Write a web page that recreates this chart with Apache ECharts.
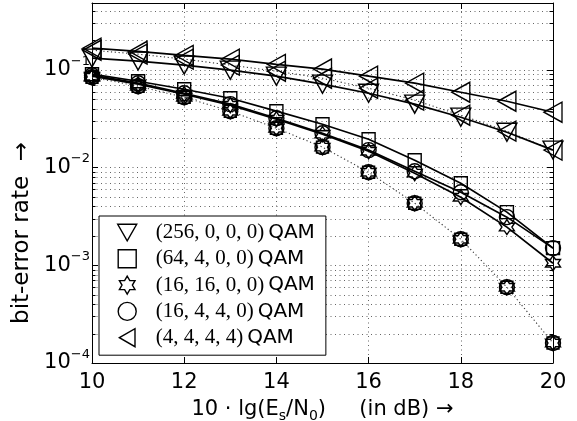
<!DOCTYPE html>
<html>
<head>
<meta charset="utf-8">
<script src="https://cdn.jsdelivr.net/npm/echarts@6/dist/echarts.min.js"></script>
<style>
html,body{margin:0;padding:0;background:#fff;}
#chart{width:577px;height:421px;}
</style>
</head>
<body>
<div id="chart"></div>
<script>
// SNR grid in dB
const snr = [10, 11, 12, 13, 14, 15, 16, 17, 18, 19, 20];

// Bit-error rates, solid curves
const ber256  = [0.132, 0.123, 0.112, 0.0993, 0.0862, 0.0714, 0.0577, 0.0446, 0.0328, 0.0230, 0.0151];
const ber4444 = [0.167, 0.155, 0.141, 0.129, 0.114, 0.102, 0.0862, 0.0731, 0.0591, 0.0478, 0.0369];
const ber64   = [0.0904, 0.0766, 0.0634, 0.0513, 0.0378, 0.0278, 0.0195, 0.0119, 0.00692, 0.00350, 0.00150];
const ber1616 = [0.0862, 0.0714, 0.0564, 0.0435, 0.0313, 0.0220, 0.0147, 0.00877, 0.00498, 0.00246, 0.00105];
const ber1644 = [0.0883, 0.0731, 0.0577, 0.0446, 0.0320, 0.0225, 0.0151, 0.00919, 0.00560, 0.00311, 0.00150];

// Bit-error rates, dotted curves
const ber4444Dot = [0.159, 0.145, 0.129, 0.112, 0.0970, 0.0822, 0.0650, 0.0490, 0.0344, 0.0236, 0.0151];
const berLowDot  = [0.0842, 0.0681, 0.0525, 0.0378, 0.0253, 0.0162, 0.00897, 0.00432, 0.00185, 0.000597, 0.000160];

// Legend entries
const legendNames = ['(256, 0, 0, 0) QAM', '(64, 4, 0, 0) QAM', '(16, 16, 0, 0) QAM', '(16, 4, 4, 0) QAM', '(4, 4, 4, 4) QAM'];

// Axis ranges and ticks
const yDecades = [-4, -3, -2, -1];
const yMin = 1e-4, yMax = 0.484;

const lg = v => Math.log10(v);
const pts = arr => snr.map((x, i) => [x, lg(arr[i])]);

// Minor log positions 2..9 × 10^n inside the axis range
const minorVals = [];
yDecades.forEach(n => {
  for (let k = 2; k <= 9; k++) {
    const v = k * Math.pow(10, n);
    if (v < yMax) minorVals.push(lg(v));
  }
});

// Marker shapes
function hexagramPath() {
  let d = '';
  for (let i = 0; i < 12; i++) {
    const r = i % 2 === 0 ? 10 : 5.77;
    const a = Math.PI / 2 + i * Math.PI / 6;
    const x = 10 + r * Math.cos(a), y = 10 - r * Math.sin(a);
    d += (i === 0 ? 'M' : 'L') + x.toFixed(2) + ',' + y.toFixed(2);
  }
  return 'path://' + d + 'Z';
}
const SYM = {
  down: 'path://M0,0L20,0L10,17.32Z',
  left: 'path://M0,10L17.32,0L17.32,20Z',
  square: 'path://M0,0L10,0L10,10L0,10Z',
  star: hexagramPath(),
  circle: 'circle'
};

const hollow = { color: 'rgba(0,0,0,0)', borderColor: '#000', borderWidth: 1.4 };
const solidLine = { color: '#000', width: 1.7, type: 'solid' };
const dotLine = { color: '#333', width: 1.1, type: [1.2, 2.6] };
const noLine = { width: 0, opacity: 0 };

function curve(name, arr, sym, size, lineStyle) {
  return {
    type: 'line', name: name, data: pts(arr),
    symbol: sym, symbolSize: size, showSymbol: true,
    lineStyle: lineStyle, itemStyle: hollow,
    silent: true, z: 3, clip: false
  };
}

const series = [
  // dotted curves
  curve(legendNames[4], ber4444Dot, SYM.left, [18, 20], dotLine),
  curve(legendNames[3], berLowDot, SYM.circle, 15, dotLine),
  curve(legendNames[2], berLowDot, SYM.star, [15, 15], noLine),
  curve(legendNames[1], berLowDot, SYM.square, [12, 12], noLine),
  // solid curves
  curve(legendNames[0], ber256, SYM.down, [20, 18], solidLine),
  curve(legendNames[4], ber4444, SYM.left, [18, 20], solidLine),
  curve(legendNames[1], ber64, SYM.square, [13, 13], solidLine),
  curve(legendNames[3], ber1644, SYM.circle, 15, solidLine),
  curve(legendNames[2], ber1616, SYM.star, [15, 15], solidLine),
  // minor log grid lines and minor ticks
  {
    type: 'custom', silent: true, z: 1,
    data: minorVals.map(v => [10, v]),
    renderItem: function (params, api) {
      const v = api.value(1);
      const p0 = api.coord([10, v]);
      const p1 = api.coord([20, v]);
      const y = Math.round(p0[1]) + 0.5;
      return {
        type: 'group',
        children: [
          { type: 'line', shape: { x1: p0[0], y1: y, x2: p1[0], y2: y },
            style: { stroke: '#666', lineWidth: 1, lineDash: [1, 3.5] } },
          { type: 'line', shape: { x1: p0[0], y1: y, x2: p0[0] + 3.5, y2: y },
            style: { stroke: '#000', lineWidth: 1 } },
          { type: 'line', shape: { x1: p1[0] - 3.5, y1: y, x2: p1[0], y2: y },
            style: { stroke: '#000', lineWidth: 1 } }
        ]
      };
    }
  }
];

const iconFor = [SYM.down, SYM.square, SYM.star, 'circle', SYM.left];

const chart = echarts.init(document.getElementById('chart'), null, { renderer: 'canvas' });
chart.setOption({
  animation: false,
  backgroundColor: '#fff',
  grid: { left: 92, right: 24, top: 3, bottom: 58, outerBoundsMode: 'none', containLabel: false },
  legend: {
    orient: 'vertical', left: 99, top: 216,
    padding: [6, 11, 7, 18], itemGap: 5.3,
    itemWidth: 19, itemHeight: 18,
    backgroundColor: '#fff', borderColor: '#000', borderWidth: 1, borderRadius: 0,
    selectedMode: false,
    data: legendNames.map((n, i) => ({ name: n, icon: iconFor[i],
      itemStyle: { color: 'rgba(0,0,0,0)', borderColor: '#000', borderWidth: 1.4 } })),
    formatter: function (n) {
      const parts = n.split(' QAM');
      return '{m|' + parts[0] + '}{s|QAM}';
    },
    textStyle: {
      color: '#000',
      rich: {
        m: { fontFamily: 'Liberation Serif', fontSize: 21, color: '#000', padding: [0, 0, 0, 14], lineHeight: 18 },
        s: { fontFamily: 'DejaVu Sans', fontSize: 20, color: '#000', lineHeight: 18, padding: [0, 0, 0, 4] }
      }
    }
  },
  xAxis: [
    {
      type: 'value', min: 10, max: 20, interval: 2, position: 'bottom',
      axisLine: { show: true, onZero: false, lineStyle: { color: '#000', width: 1 } },
      axisTick: { show: true, inside: true, length: 6, lineStyle: { color: '#000' } },
      axisLabel: { show: true, color: '#000', fontFamily: 'DejaVu Sans', fontSize: 21, margin: 9 },
      splitLine: { show: true, lineStyle: { color: '#666', width: 1, type: [1, 3.5] } },
      name: '{a|10 · lg(E}{b|s}{a|/N}{b|0}{a|)     (in dB) →}',
      nameLocation: 'middle', nameGap: 34,
      nameTextStyle: {
        color: '#000',
        rich: {
          a: { fontFamily: 'DejaVu Sans', fontSize: 21, color: '#000', lineHeight: 26 },
          b: { fontFamily: 'DejaVu Sans', fontSize: 14, color: '#000', lineHeight: 12, verticalAlign: 'bottom' }
        }
      }
    },
    {
      type: 'value', min: 10, max: 20, interval: 2, position: 'top',
      axisLine: { show: true, onZero: false, lineStyle: { color: '#000', width: 1 } },
      axisTick: { show: true, inside: true, length: 6, lineStyle: { color: '#000' } },
      axisLabel: { show: false },
      splitLine: { show: false }
    }
  ],
  yAxis: [
    {
      type: 'value', min: lg(yMin), max: lg(yMax), interval: 1, position: 'left',
      axisLine: { show: true, onZero: false, lineStyle: { color: '#000', width: 1 } },
      axisTick: { show: true, inside: true, length: 6, lineStyle: { color: '#000' } },
      axisLabel: {
        show: true, margin: 2, showMaxLabel: false,
        formatter: function (v) {
          if (Math.abs(v - Math.round(v)) > 1e-6) return '';
          return '{b|10}{s|−' + Math.abs(Math.round(v)) + '}';
        },
        rich: {
          b: { fontFamily: 'DejaVu Sans', fontSize: 21, color: '#000', lineHeight: 30 },
          s: { fontFamily: 'DejaVu Sans', fontSize: 13, color: '#000', lineHeight: 12, verticalAlign: 'top' }
        }
      },
      splitLine: { show: true, lineStyle: { color: '#666', width: 1, type: [1, 3.5] } },
      name: 'bit-error rate  →',
      nameLocation: 'middle', nameRotate: 90, nameGap: 52,
      nameTextStyle: { fontFamily: 'DejaVu Sans', fontSize: 23, color: '#000', padding: [0, 100, 0, 0] }
    },
    {
      type: 'value', min: lg(yMin), max: lg(yMax), interval: 1, position: 'right',
      axisLine: { show: true, onZero: false, lineStyle: { color: '#000', width: 1 } },
      axisTick: { show: true, inside: true, length: 6, lineStyle: { color: '#000' } },
      axisLabel: { show: false },
      splitLine: { show: false }
    }
  ],
  series: series
});
</script>
</body>
</html>
